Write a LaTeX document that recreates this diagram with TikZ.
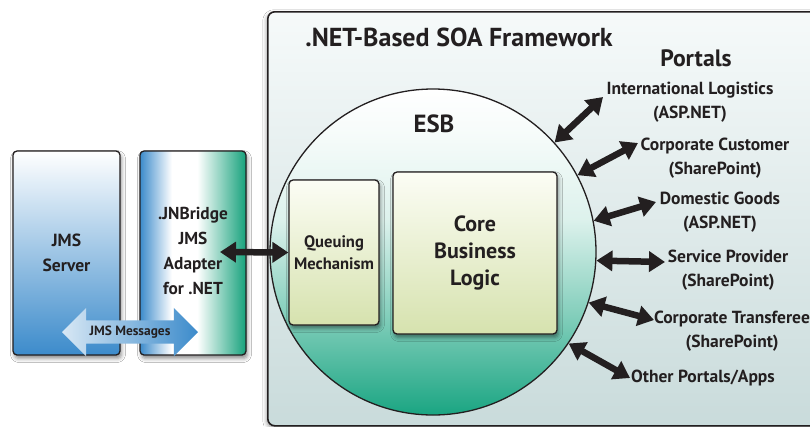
\documentclass[tikz,border=0pt]{standalone}
\usepackage{fontspec}
\setmainfont{PT Sans}
\usetikzlibrary{arrows.meta,shadows.blur,shapes.arrows}
\definecolor{ink}{HTML}{231F20}
\definecolor{jmsblue}{HTML}{3C8BCB}
\definecolor{adgreen}{HTML}{17A27C}
\definecolor{esbgreen}{HTML}{1AA582}
\definecolor{frametop}{HTML}{F6FAFA}
\definecolor{framebot}{HTML}{C9DBDB}
\definecolor{creamtop}{HTML}{FCFDF5}
\definecolor{creambot}{HTML}{D6E2AE}
\pgfdeclareverticalshading{esbshade}{100bp}{color(0bp)=(esbgreen); color(25bp)=(esbgreen); color(40bp)=(esbgreen!55!white); color(55bp)=(esbgreen!15!white); color(68bp)=(white!96!esbgreen); color(75bp)=(white); color(100bp)=(white)}
\pgfdeclarehorizontalshading{adshade}{100bp}{color(0bp)=(jmsblue); color(25bp)=(jmsblue); color(40bp)=(white); color(52bp)=(white); color(75bp)=(adgreen); color(100bp)=(adgreen)}
\tikzset{
  box/.style={draw=ink, line width=1.3pt, rounded corners=4pt, align=center,
    blur shadow={shadow xshift=1.5pt, shadow yshift=-3.5pt, shadow blur radius=4pt, shadow opacity=45}},
  cream/.style={top color=creamtop, bottom color=creambot},
  fat/.style={ink, line width=6.5pt, {Triangle[length=16pt,width=20pt]}-{Triangle[length=16pt,width=20pt]}},
  portal/.style={align=center, font=\bfseries\fontsize{17.5}{24}\selectfont},
}
\begin{document}
\begin{tikzpicture}[x=1pt,y=-1pt, font=\bfseries, text=ink]
\clip (0,0) rectangle (810,426);
\fill[white] (0,0) rectangle (810,426);
% left boxes
\node[box, top color=white, bottom color=jmsblue, minimum width=107pt, minimum height=204pt,
  font=\bfseries\fontsize{17.6}{25}\selectfont] (jms) at (66.5,253) {JMS\\Server};
\node[box, shade, shading=adshade, minimum width=106pt, minimum height=204pt] (adapter) at (193,253) {};
\node[align=center, font=\bfseries\fontsize{17.3}{25}\selectfont] (adtext) at (193,251) {.JNBridge\\JMS\\Adapter\\for .NET};
\node[double arrow, double arrow head extend=12.5pt, minimum height=136pt, inner xsep=0pt,
  inner ysep=5.5pt, text height=9.5pt, text depth=2.5pt, left color=white!80!jmsblue, right color=jmsblue,
  font=\bfseries\fontsize{13.4}{15}\selectfont] (msgs) at (130,332) {JMS Messages};
% frame
\node[draw=ink, line width=1.6pt, rounded corners=7pt, top color=frametop, bottom color=framebot,
  minimum width=563pt, minimum height=414pt, anchor=north west,
  blur shadow={shadow xshift=-1pt, shadow yshift=-2pt, shadow blur radius=4pt, shadow opacity=40}] (soa) at (267,11) {};
\node[font=\bfseries\fontsize{26}{30}\selectfont] (title) at (459,37) {.NET-Based SOA Framework};
\node[font=\bfseries\fontsize{23.7}{28}\selectfont] (portals) at (696,58) {Portals};
% ESB
\node[draw=ink, line width=1.3pt, circle, minimum size=326pt, inner sep=0pt, shade, shading=esbshade] (esb) at (433,252) {};
\node[font=\bfseries\fontsize{24.8}{28}\selectfont] (esbl) at (434,124) {ESB};
\node[box, cream, minimum width=90pt, minimum height=145pt, font=\bfseries\fontsize{16.6}{22}\selectfont] (queue) at (334,252.5) {Queuing\\Mechanism};
\node[box, cream, minimum width=164pt, minimum height=162pt, font=\bfseries\fontsize{22}{27}\selectfont] (core) at (475,253) {Core\\Business\\Logic};
% adapter link
\coordinate (adin) at (220,252);
\draw[fat] (adin) -- (queue.west);
% portals
\node[portal] (p1) at (690,102) {International Logistics\\(ASP.NET)};
\node[portal] (p2) at (715,158) {Corporate Customer\\(SharePoint)};
\node[portal] (p3) at (720,212.5) {Domestic Goods\\(ASP.NET)};
\node[portal] (p4) at (728,270) {Service Provider\\(SharePoint)};
\node[portal] (p5) at (732,331.5) {Corporate Transferee\\(SharePoint)};
\node[portal] (p6) at (703,378) {Other Portals/Apps};
\coordinate (e1) at (603,97);
\coordinate (e2) at (638,143);
\coordinate (e3) at (656,202);
\coordinate (e4) at (665,262);
\coordinate (e5) at (654,320);
\coordinate (e6) at (630,378);
\draw[fat] (esb.42) -- (e1);
\draw[fat] (esb.28) -- (e2);
\draw[fat] (esb.11) -- (e3);
\draw[fat] (esb.-3.5) -- (e4);
\draw[fat] (esb.-18) -- (e5);
\draw[fat] (esb.-34) -- (e6);
\end{tikzpicture}
\end{document}
